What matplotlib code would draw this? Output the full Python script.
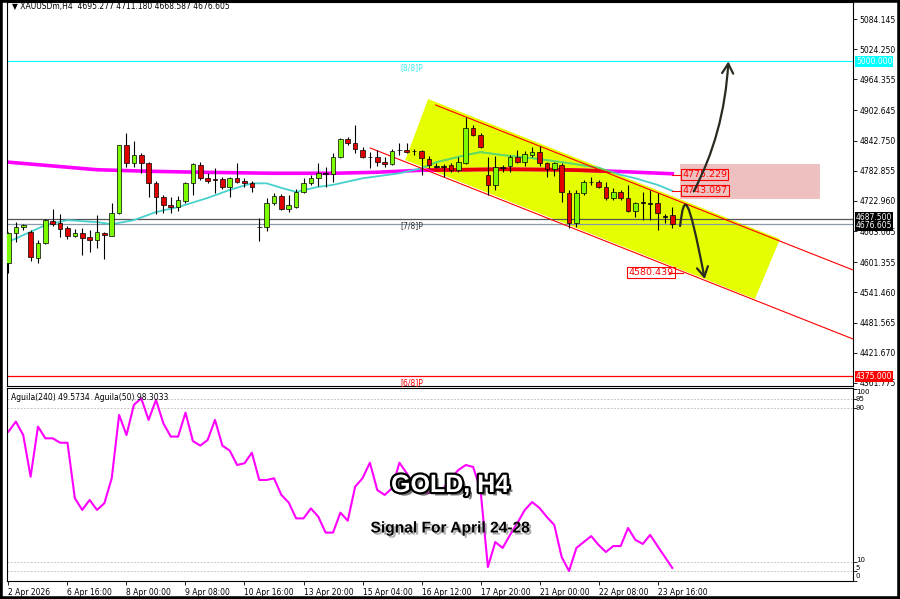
import numpy as np
import matplotlib.pyplot as plt
from matplotlib.patches import Polygon, Rectangle, FancyArrowPatch
from matplotlib.path import Path
import matplotlib.patheffects as pe

# H4 candles, XAUUSD
opens = [4600.0, 4659.5, 4671.3, 4661.4, 4609.8, 4639.6, 4683.3, 4679.3, 4669.4, 4653.5,
         4659.5, 4651.5, 4645.6, 4659.5, 4653.5, 4699.1, 4834.1, 4798.4, 4814.3, 4798.4,
         4758.7, 4730.9, 4715.0, 4711.1, 4723.0, 4758.7, 4794.4, 4768.6, 4766.6, 4766.6,
         4750.8, 4768.6, 4762.6, 4758.7, 4672.0, 4671.3, 4718.9, 4732.9, 4707.1, 4711.1,
         4740.8, 4758.7, 4768.6, 4778.5, 4776.5, 4810.3, 4846.0, 4838.1, 4824.2, 4810.3,
         4810.3, 4800.4, 4796.4, 4824.2, 4824.2, 4822.2, 4822.2, 4806.3, 4792.4, 4792.4,
         4794.4, 4784.5, 4798.4, 4867.8, 4853.9, 4774.5, 4754.7, 4790.4, 4792.4, 4810.3,
         4800.4, 4814.3, 4820.2, 4798.4, 4786.5, 4794.4, 4738.8, 4679.3, 4738.8, 4760.7,
         4760.7, 4750.8, 4728.9, 4740.8, 4728.9, 4703.1, 4720.9, 4718.9, 4718.9, 4692.9,
         4695.277]
highs = [4662.0, 4681.3, 4677.3, 4665.4, 4645.6, 4687.2, 4707.1, 4697.1, 4673.3, 4667.4,
         4669.4, 4665.4, 4695.2, 4661.4, 4718.9, 4834.1, 4857.9, 4842.0, 4818.2, 4800.4,
         4762.6, 4734.9, 4730.9, 4732.9, 4760.7, 4798.4, 4800.4, 4778.5, 4788.5, 4770.6,
         4770.6, 4798.4, 4768.6, 4762.6, 4689.2, 4728.9, 4738.8, 4736.8, 4734.9, 4746.8,
         4768.6, 4774.5, 4798.4, 4790.4, 4818.2, 4848.0, 4850.0, 4873.8, 4830.1, 4820.2,
         4824.2, 4810.3, 4826.2, 4838.1, 4838.1, 4826.2, 4824.2, 4812.3, 4798.4, 4796.4,
         4798.4, 4810.3, 4889.6, 4873.8, 4857.9, 4810.3, 4812.3, 4794.4, 4814.3, 4824.2,
         4822.2, 4830.1, 4832.1, 4800.4, 4800.4, 4798.4, 4744.8, 4744.8, 4764.6, 4770.6,
         4764.6, 4760.7, 4748.8, 4744.8, 4754.7, 4720.9, 4740.8, 4744.8, 4738.8, 4697.1,
         4711.180]
lows = [4580.0, 4641.6, 4665.4, 4603.9, 4599.9, 4637.6, 4673.3, 4651.5, 4647.5, 4651.5,
        4615.8, 4621.8, 4629.7, 4607.8, 4653.5, 4697.1, 4790.4, 4790.4, 4778.5, 4730.9,
        4697.1, 4699.1, 4699.1, 4703.1, 4719.0, 4734.9, 4764.6, 4758.7, 4738.8, 4746.8,
        4730.9, 4758.7, 4750.8, 4740.8, 4643.6, 4663.4, 4715.0, 4705.1, 4701.1, 4709.1,
        4738.8, 4754.7, 4752.7, 4750.8, 4760.7, 4808.3, 4834.1, 4818.2, 4808.3, 4788.5,
        4792.4, 4790.4, 4794.4, 4814.3, 4818.2, 4814.3, 4774.5, 4788.5, 4788.5, 4770.6,
        4780.5, 4780.5, 4796.4, 4851.9, 4828.1, 4734.9, 4744.8, 4780.5, 4780.5, 4798.4,
        4792.4, 4810.3, 4792.4, 4770.6, 4772.6, 4720.9, 4669.4, 4671.3, 4734.9, 4754.7,
        4748.8, 4724.9, 4724.9, 4724.9, 4701.1, 4691.2, 4685.3, 4685.3, 4665.4, 4679.3,
        4668.587]
closes = [4659.5, 4671.3, 4675.3, 4611.8, 4639.6, 4685.3, 4677.3, 4667.4, 4653.5, 4659.5,
          4649.5, 4645.6, 4661.4, 4655.5, 4699.1, 4834.1, 4798.4, 4814.3, 4798.4, 4758.7,
          4730.9, 4715.0, 4711.1, 4724.9, 4758.7, 4796.4, 4768.6, 4762.6, 4764.6, 4750.8,
          4768.6, 4760.7, 4758.7, 4750.8, 4670.6, 4718.9, 4732.9, 4707.1, 4715.0, 4740.8,
          4758.7, 4768.6, 4778.5, 4777.5, 4810.3, 4846.0, 4838.1, 4826.2, 4810.3, 4809.3,
          4800.4, 4796.4, 4822.2, 4823.2, 4820.2, 4821.2, 4808.3, 4794.4, 4791.4, 4791.4,
          4784.5, 4800.4, 4867.8, 4853.9, 4830.1, 4754.7, 4790.4, 4789.4, 4810.3, 4800.4,
          4816.2, 4820.2, 4798.4, 4786.5, 4798.4, 4740.8, 4679.3, 4738.8, 4760.7, 4759.7,
          4750.8, 4728.9, 4740.8, 4728.9, 4703.1, 4718.9, 4719.9, 4717.9, 4699.1, 4691.9,
          4676.605]

# moving averages (bar index, price)
ma_slow_bars = [0, 12, 19, 26, 36, 44, 50, 56, 67, 75, 82, 90]
ma_slow = [4800, 4785, 4782, 4780, 4778, 4778, 4780, 4784, 4786, 4785, 4782, 4777]
ma_fast_bars = [0, 5, 8, 12, 14, 17, 20, 23, 27, 30, 33, 35, 37, 39, 42, 44, 48, 53,
                56, 58, 62, 64, 67, 71, 76, 80, 83, 85, 88, 90]
ma_fast = [4642, 4675, 4685, 4681, 4677, 4685, 4701, 4711, 4729, 4745, 4758, 4758, 4749,
           4741, 4751, 4755, 4768, 4778, 4788, 4800, 4814, 4820, 4814, 4808, 4798, 4789,
           4775, 4768, 4755, 4743]

# Aguila oscillator
aguila = [77.8, 83.0, 76.0, 54.3, 80.4, 74.3, 74.3, 72.0, 72.0, 43.1,
          37.0, 42.2, 37.0, 40.5, 53.5, 86.5, 76.0, 91.7, 95.1, 83.9,
          94.3, 82.1, 75.2, 75.2, 87.7, 72.9, 70.5, 73.4, 83.9, 70.5,
          67.9, 60.4, 61.3, 66.8, 52.6, 52.6, 53.5, 44.8, 40.8, 32.6,
          32.6, 37.8, 33.5, 25.2, 25.2, 35.6, 31.4, 49.1, 53.5, 61.6,
          47.4, 44.8, 48.3, 61.6, 56.1, 50.0, 46.4, 45.8, 46.4, 48.4,
          53.6, 57.8, 60.4, 59.4, 47.4, 7.3, 20.3, 17.2, 24.0, 30.2,
          37.0, 41.1, 38.0, 33.3, 29.2, 12.5, 5.2, 17.2, 20.3, 23.4,
          18.8, 15.1, 18.2, 18.2, 27.6, 21.4, 19.3, 24.0, 18.2, 12.5, 6.8]

date_ticks = [0, 8, 16, 24, 32, 40, 48, 56, 64, 72, 80, 88]
date_labels = ["2 Apr 2026", "6 Apr 16:00", "8 Apr 00:00", "9 Apr 08:00", "10 Apr 16:00",
               "13 Apr 20:00", "15 Apr 04:00", "16 Apr 12:00", "17 Apr 20:00",
               "21 Apr 00:00", "22 Apr 08:00", "23 Apr 16:00"]
price_ticks = [5084.145, 5024.250, 4964.355, 4902.645, 4842.750, 4782.855, 4722.960,
               4663.065, 4601.355, 4541.460, 4481.565, 4421.670, 4361.775]

# Murrey levels and drawn objects
level_8 = 5000.0
level_7 = 4687.5
level_6 = 4375.0
bid = 4676.605
chan_up_x, chan_up_y = [57.9, 114.5], [4913.5, 4586.0]
chan_lo_x, chan_lo_y = [49.05, 114.5], [4828.1, 4449.1]
box_x = [56.9, 104.6, 101.2, 53.8]
box_y = [4925.4, 4647.5, 4528.5, 4804.3]
zone_x = [91.05, 110.0]
zone_y = [4726.9, 4796.4]
targets = [4775.229, 4743.097, 4580.439]
up_path = [(92.9, 4742.0), (95.6, 4818.0), (97.2, 4900.0), (97.6, 5000.0)]
down_path = [(91.06, 4673.4), (91.6, 4740.8), (92.1, 4740.8), (94.4, 4568.2)]

fig = plt.figure(figsize=(9, 5.99), dpi=100)
ax = fig.add_axes([7 / 900, 1 - 386 / 599, 846 / 900, 384 / 599])
ax2 = fig.add_axes([7 / 900, 1 - 581 / 599, 846 / 900, 193 / 599])
x = np.arange(len(opens))
ax.set_xlim(-0.2, 114.5)
ax.set_ylim(4355.8, 5117.9)

# channel box + resistance zone (background)
box = Polygon(list(zip(box_x, box_y)), closed=True, fc="#E6FF00", ec="none", zorder=1)
ax.add_patch(box)
ax.add_patch(Rectangle((zone_x[0], zone_y[0]), zone_x[1] - zone_x[0], zone_y[1] - zone_y[0],
                       fc="#EFC0C0", ec="none", zorder=1))

# horizontal levels
ax.axhline(level_8, color="#00FFFF", lw=0.8, zorder=1.5)
ax.axhline(level_7, color="#555555", lw=0.9, zorder=1.5)
ax.axhline(bid, color="#8899AA", lw=0.9, zorder=1.5)
ax.axhline(level_6, color="#FF0000", lw=0.9, zorder=1.5)
ax.text(53.1, 4986.9, "[8/8]P", color="#40E8F0", fontsize=5.5, va="center")
ax.text(53.1, 4674.3, "[7/8]P", color="#333333", fontsize=5.5, va="center")
ax.text(53.1, 4362.5, "[6/8]P", color="#FF0000", fontsize=5.5, va="center")

# moving averages, with the "multiplied" colour where they cross the yellow box
ax.plot(ma_slow_bars, ma_slow, color="#FF00FF", lw=2.6, zorder=2)
l1, = ax.plot(ma_slow_bars, ma_slow, color="#E60000", lw=2.6, zorder=2.1)
l1.set_clip_path(box)
ax.plot(ma_fast_bars, ma_fast, color="#48D1CC", lw=1.3, zorder=2)
l2, = ax.plot(ma_fast_bars, ma_fast, color="#66DD55", lw=1.3, zorder=2.1)
l2.set_clip_path(box)

# channel lines
ax.plot(chan_up_x, chan_up_y, color="#FF0000", lw=0.8, zorder=2.5)
ax.plot(chan_lo_x, chan_lo_y, color="#FF0000", lw=0.8, zorder=2.5)

# candles
o = np.array(opens); c = np.array(closes)
ax.vlines(x, lows, highs, color="black", lw=0.8, zorder=3.5)
body = np.maximum(np.abs(c - o), 1.0)
cols = np.where(np.abs(c - o) < 1.5, "black", np.where(c > o, "#7CFC00", "#E00000"))
ax.bar(x, body, bottom=np.minimum(o, c), width=0.62, color=cols, edgecolor="black",
       linewidth=0.5, zorder=4)

# target labels
lab_x = [91.06, 91.06, 83.75]
line_x = [(90.0, 91.06), (90.0, 91.06), (89.5, 91.5)]
for t, lx, (a, b) in zip(targets, lab_x, line_x):
    ax.plot([a, b], [t, t], color="#FF0000", lw=0.8, zorder=5)
    ax.text(lx + 0.3, t, f"{t:.3f}", color="#FF0000", fontsize=6.8, va="center", zorder=6,
            bbox=dict(boxstyle="square,pad=0.12", fc="none", ec="#FF0000", lw=0.8))

# scenario arrows
codes = [Path.MOVETO, Path.CURVE4, Path.CURVE4, Path.CURVE4]
for pts in (up_path, down_path):
    ax.add_patch(FancyArrowPatch(path=Path(pts, codes), arrowstyle="->,head_length=0.7,head_width=0.4",
                                 mutation_scale=10, lw=1.6, color="#2a2a1e", zorder=6))

# price axis
ax.set_xticks([])
ax.yaxis.tick_right()
ax.set_yticks(price_ticks)
ax.set_yticklabels([f"{v:.3f}" for v in price_ticks])
ax.tick_params(axis="y", direction="out", length=3, width=0.6, labelsize=5.5, pad=1.5)
ytr = ax.get_yaxis_transform()
for v, yy, fc in ((level_8, level_8, "#00FFFF"), (level_7, 4689.5, "black"),
                  (bid, 4673.5, "black"), (level_6, level_6, "#FF0000")):
    ax.text(1.0035, yy, f"{v:.3f}", transform=ytr, color="white", fontsize=5.5, va="center",
            bbox=dict(boxstyle="square,pad=0.12", fc=fc, ec="none"), zorder=7, clip_on=False)
for s in ax.spines.values():
    s.set_linewidth(0.8)

ax.text(0.006, 0.989, "▼ XAUUSDm,H4  4695.277 4711.180 4668.587 4676.605",
        transform=ax.transAxes, fontsize=5.5, va="center")

# indicator panel
ax2.set_xlim(-0.2, 114.5)
ax2.set_ylim(0, 100.5)
for v in (95, 90, 10, 5):
    ax2.axhline(v, color="#b5b5b5", lw=0.6, ls=(0, (2, 2)))
ax2.plot(x, aguila, color="#FF00FF", lw=1.5)
ax2.yaxis.tick_right()
ax2.set_yticks([100, 95, 90, 10, 5, 0])
ax2.set_yticklabels([])
ax2.tick_params(axis="y", direction="out", length=3, width=0.6)
ytr2 = ax2.get_yaxis_transform()
for v, yy in ((100, 98.6), (95, 94.6), (90, 90.2), (10, 10.8), (5, 6.6), (0, 2.4)):
    ax2.text(1.0035, yy, str(v), transform=ytr2, fontsize=5.0, va="center")
ax2.set_xticks(date_ticks)
ax2.set_xticklabels(date_labels, ha="left")
ax2.tick_params(axis="x", direction="out", length=3, width=0.6, labelsize=5.5, pad=2)
for s in ax2.spines.values():
    s.set_linewidth(0.8)
ax2.text(0.005, 0.953, "Aguila(240) 49.5734  Aguila(50) 98.3033", transform=ax2.transAxes,
         fontsize=5.5, va="center")

# overlay captions
fig.text(450 / 900, 1 - 485 / 599, "GOLD, H4", ha="center", va="center", fontsize=18,
         fontweight="bold", family="Liberation Sans", color="white",
         path_effects=[pe.SimplePatchShadow(offset=(2.5, -2.5), shadow_rgbFace="#444444", alpha=0.7),
                       pe.withStroke(linewidth=3.2, foreground="black")])
fig.text(450 / 900, 1 - 528 / 599, "Signal For April 24-28", ha="center", va="center",
         fontsize=11.2, fontweight="bold", family="Liberation Sans", color="black",
         path_effects=[pe.SimplePatchShadow(offset=(1.5, -1.5), shadow_rgbFace="#777777", alpha=0.6),
                       pe.Normal()])

fig.add_artist(Rectangle((0, 0), 1, 1, transform=fig.transFigure, fill=False, ec="black", lw=4))
fig.savefig("out.png", dpi=100)
